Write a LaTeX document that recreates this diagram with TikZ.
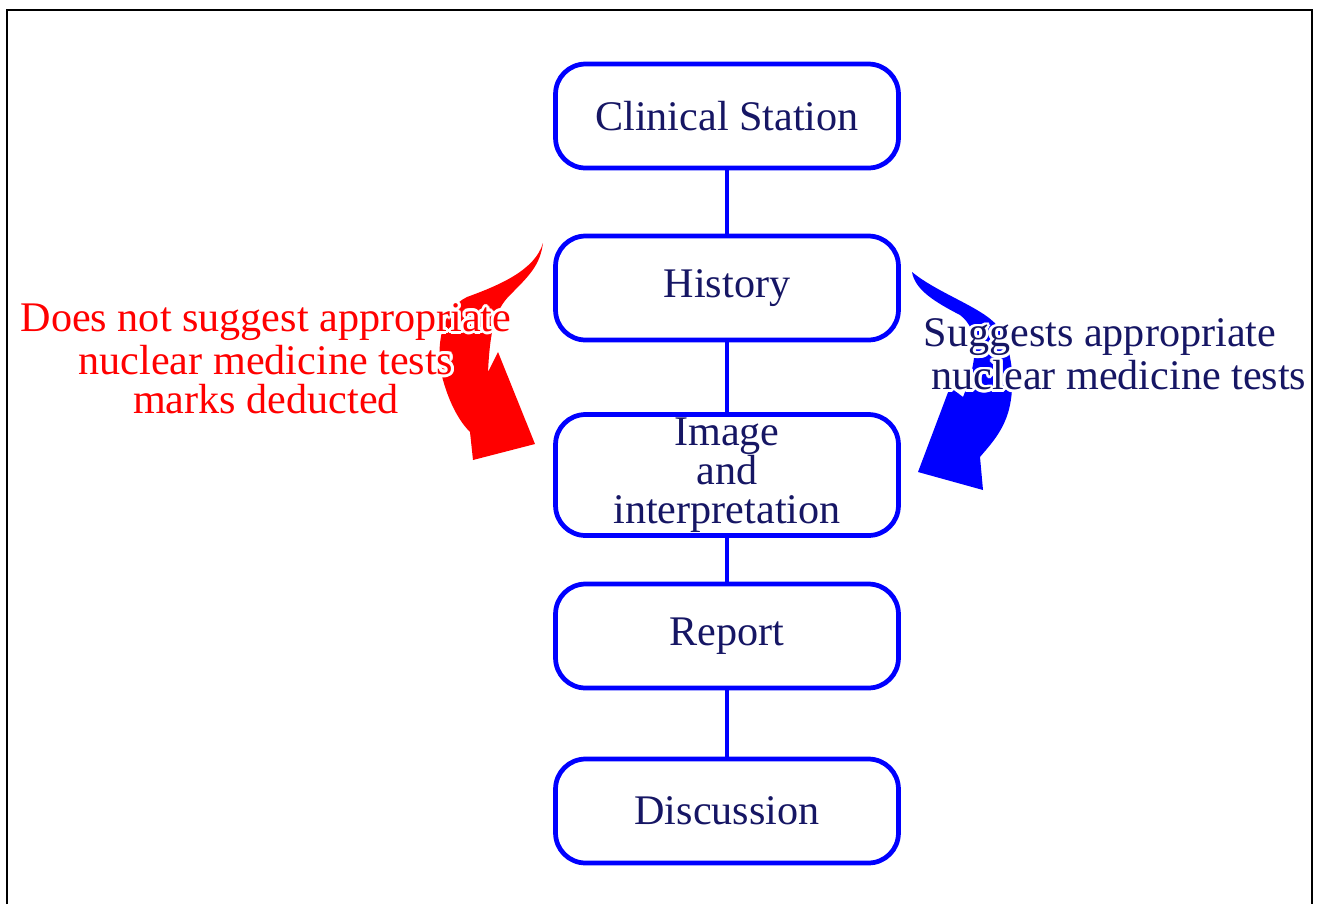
\documentclass[tikz,border=0pt]{standalone}
\usepackage{fontspec}
\setmainfont{Liberation Serif}
\usepackage{contour}
\contourlength{1.6pt}
\usetikzlibrary{positioning}

\definecolor{boxblue}{RGB}{0,0,255}
\definecolor{navytext}{RGB}{22,22,100}

\begin{document}
\begin{tikzpicture}[x=0.02cm, y=-0.02cm, every node/.style={font=\fontsize{24}{22.3}\selectfont}]

% Styles
\tikzstyle{stage} = [draw=boxblue, line width=2.7pt, rounded corners=0.6cm, align=center, minimum width=6.86cm, minimum height=2.08cm, text=navytext, fill=white]
\tikzstyle{link} = [draw=boxblue, line width=2.7pt]

\useasboundingbox (0,0) rectangle (1320,904);

% Frame
\draw[line width=1.3pt] (7,904) -- (7,10) -- (1312,10) -- (1312,904);

% Curved arrows
\fill[red] (543,243) .. controls (535,270) and (500,285) .. (467,297)
  .. controls (440,310) and (435,350) .. (443,380)
  .. controls (450,405) and (460,422) .. (470,432)
  -- (473,460) -- (535,444) -- (498,352) -- (488,372)
  .. controls (490,330) and (495,310) .. (510,295)
  .. controls (530,275) and (540,265) .. (543,243) -- cycle;
\fill[boxblue] (912,272) .. controls (940,295) and (990,310) .. (1000,330)
  .. controls (1012,350) and (1015,380) .. (1010,405)
  .. controls (1005,430) and (990,445) .. (980,457)
  -- (983,490) -- (918,472) -- (950,387) -- (963,397)
  .. controls (978,360) and (980,330) .. (960,315)
  .. controls (935,302) and (915,290) .. (912,272) -- cycle;

% Nodes
\node[stage] (clinical) at (727,116) {Clinical Station};
\node[stage] (history) at (727,288) {History};
\node[stage, minimum height=2.42cm, inner ysep=0pt] (image) at (727,475) {Image\\and\\interpretation};
\node[stage] (report) at (727,636) {Report};
\node[stage] (discussion) at (727,811) {Discussion};

\node[text=red, align=center] (nosuggest) at (266,360) {\contour{white}{Does not suggest appropriate}\\\contour{white}{nuclear medicine tests}\\\contour{white}{marks deducted}};
\node[text=navytext, align=left, inner xsep=0pt] (suggest) at (1115,356) {\contour{white}{Suggests appropriate}\\\hspace*{0.16cm}\contour{white}{nuclear medicine tests}};

% Links
\draw[link] (clinical) -- (history);
\draw[link] (history) -- (image);
\draw[link] (image) -- (report);
\draw[link] (report) -- (discussion);

\end{tikzpicture}
\end{document}
